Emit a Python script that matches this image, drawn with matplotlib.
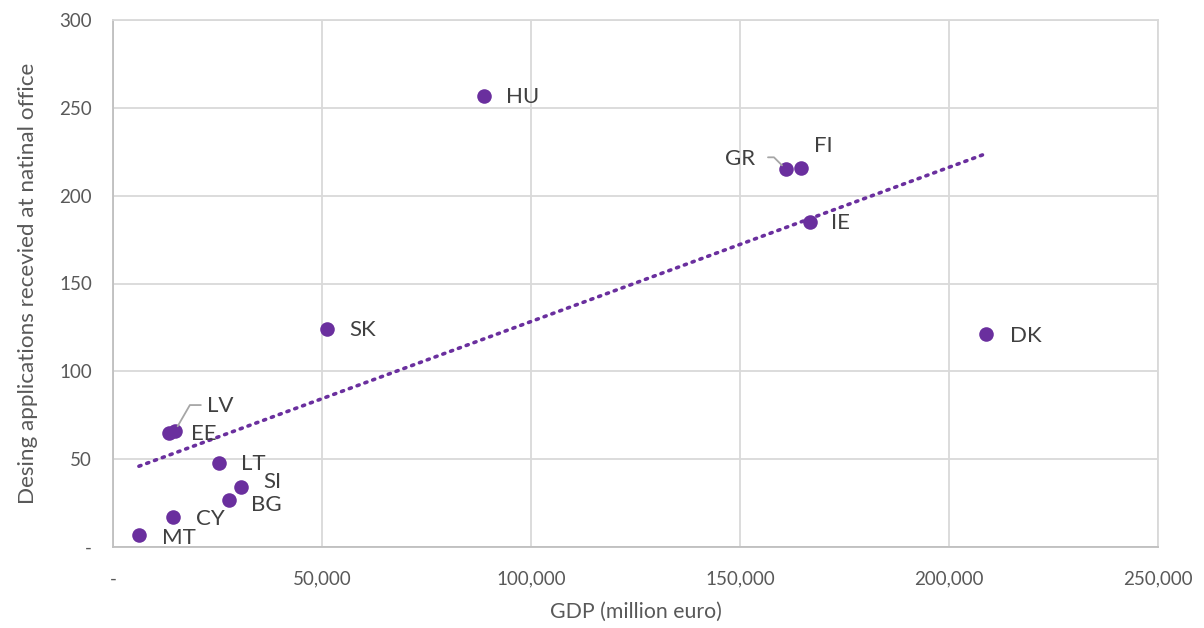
import numpy as np
import matplotlib
matplotlib.use("Agg")
import matplotlib.pyplot as plt
from matplotlib.ticker import FuncFormatter

plt.rcParams['font.family'] = ['Lato', 'DejaVu Sans']

countries = ["MT", "CY", "BG", "SI", "LT", "EE", "LV", "SK", "HU", "GR", "FI", "IE", "DK"]
gdp = [6200, 14400, 27800, 30600, 25400, 13400, 14800, 51200, 88800, 161000, 164600, 166700, 208900]
applications = [7, 17, 27, 34, 48, 65, 66, 124, 257, 215, 216, 185, 121]

# label offsets (pixels) from each point
label_offsets = {
    "MT": (23, -3), "CY": (23, -2), "BG": (22, -5), "SI": (22, 5),
    "LT": (22, -1), "EE": (22, -1), "LV": (32, 25), "SK": (22, -1),
    "HU": (22, -1), "GR": (-61, 10), "FI": (13, 22), "IE": (21, -1),
    "DK": (24, -2),
}

purple = "#6a2f9e"
grid_c = "#d9d9d9"
text_c = "#595959"

fig = plt.figure(figsize=(12.04, 6.28), dpi=100)
ax = fig.add_axes([113 / 1204, 1 - 547 / 628, (1158 - 113) / 1204, (547 - 20) / 628])

ax.set_xlim(0, 250000)
ax.set_ylim(0, 300)
ax.set_xticks(np.arange(0, 250001, 50000))
ax.set_yticks(np.arange(0, 301, 50))
ax.xaxis.set_major_formatter(FuncFormatter(lambda v, p: "-" if v == 0 else f"{int(v):,}"))
ax.yaxis.set_major_formatter(FuncFormatter(lambda v, p: "-" if v == 0 else f"{int(v)}"))
ax.grid(True, color=grid_c, linewidth=1.3)
ax.set_axisbelow(True)
for s in ["top", "right"]:
    ax.spines[s].set_color(grid_c)
    ax.spines[s].set_linewidth(1.3)
for s in ["left", "bottom"]:
    ax.spines[s].set_color("#bfbfbf")
    ax.spines[s].set_linewidth(1.3)
ax.tick_params(length=0, labelsize=13.5, labelcolor=text_c)
ax.tick_params(axis="y", pad=15)
ax.tick_params(axis="x", pad=17)

# linear trend line over the data range
coef = np.polyfit(gdp, applications, 1)
xs = np.array([min(gdp), max(gdp)])
ax.plot(xs, np.polyval(coef, xs), color=purple, linewidth=2.6,
        linestyle=(0, (0.6, 1.7)), dash_capstyle="round", zorder=2)

ax.scatter(gdp, applications, s=110, color=purple, zorder=3, linewidths=0)

for c, x, y in zip(countries, gdp, applications):
    dx, dy = label_offsets[c]
    ax.annotate(c, (x, y), xytext=(dx, dy), textcoords="offset pixels",
                ha="left", va="center", fontsize=16, color="#404040", zorder=4)

# leader lines for the crowded labels
ax.annotate("", (14800, 66), xytext=(26, 26), textcoords="offset pixels",
            arrowprops=dict(arrowstyle="-", color="#a6a6a6", lw=1.3,
                            connectionstyle="angle,angleA=0,angleB=60,rad=0",
                            shrinkA=0, shrinkB=4))
ax.annotate("", (161000, 215), xytext=(-18, 12), textcoords="offset pixels",
            arrowprops=dict(arrowstyle="-", color="#a6a6a6", lw=1.3,
                            connectionstyle="angle,angleA=0,angleB=-45,rad=0",
                            shrinkA=0, shrinkB=4))

ax.set_xlabel("GDP (million euro)", fontsize=15.3, color=text_c, labelpad=10)
ax.set_ylabel("Desing applications recevied at natinal office", fontsize=16.2,
              color=text_c, labelpad=15)

fig.savefig("out.png", dpi=100)
